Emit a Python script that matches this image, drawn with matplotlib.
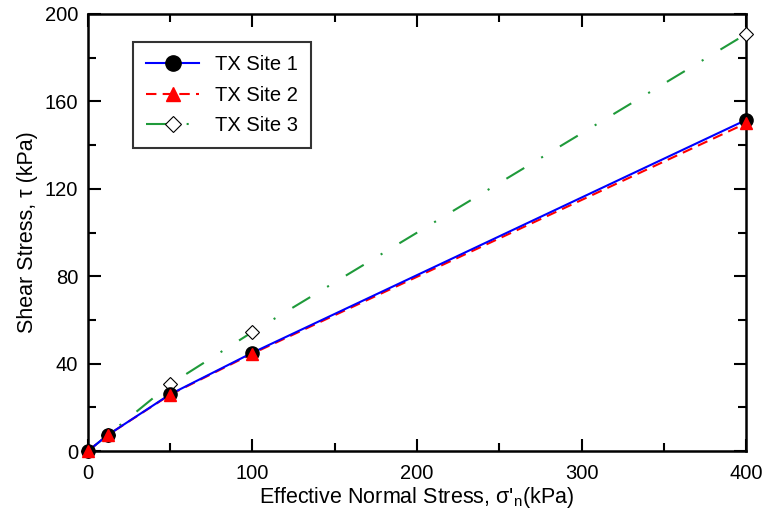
import matplotlib
matplotlib.use("Agg")
import matplotlib.pyplot as plt
from matplotlib.lines import Line2D
from matplotlib.ticker import MultipleLocator

plt.rcParams['font.family'] = ['Liberation Sans', 'DejaVu Sans']
plt.rcParams['mathtext.default'] = 'regular'

stress = [0, 12, 50, 100, 400]
site1 = [0, 7.3, 26.0, 45.0, 151.5]
site2 = [0, 7.3, 25.8, 44.6, 150.0]
site3 = [0, 7.3, 30.6, 54.5, 190.8]
labels = ['TX Site 1', 'TX Site 2', 'TX Site 3']

blue = '#0000ff'
red = '#ff0000'
green = '#1f9a3a'
lw = 1.5
ls2 = (0, (5, 3))
ls3 = (0, (10, 9.5, 1, 9.5))

fig = plt.figure(figsize=(7.67, 5.18), dpi=100)
ax = fig.add_axes([0.1147, 0.1293, 0.858, 0.8437])

ax.plot(stress, site3, color=green, lw=lw, linestyle=ls3, zorder=2)
ax.plot(stress, site2, color=red, lw=lw, linestyle=ls2, zorder=3)
ax.plot(stress, site1, color=blue, lw=lw, zorder=4)
ax.plot(stress, site3, linestyle='none', marker='D', ms=7.5, mfc='white', mec='black', mew=0.8, zorder=5, clip_on=False)
ax.plot(stress, site1, linestyle='none', marker='o', ms=9.5, mfc='black', mec='black', zorder=6, clip_on=False)
ax.plot(stress, site2, linestyle='none', marker='^', ms=8, mfc=red, mec=red, zorder=7, clip_on=False)

ax.set_xlim(0, 400)
ax.set_ylim(0, 200)
ax.xaxis.set_major_locator(MultipleLocator(100))
ax.xaxis.set_minor_locator(MultipleLocator(50))
ax.yaxis.set_major_locator(MultipleLocator(40))
ax.yaxis.set_minor_locator(MultipleLocator(20))
ax.tick_params(which='both', direction='in', top=True, right=True, width=1.5, labelsize=14.5)
ax.tick_params(axis='x', pad=9)
ax.tick_params(axis='y', pad=7)
ax.tick_params(which='major', length=9)
ax.tick_params(which='minor', length=6)
for s in ax.spines.values():
    s.set_linewidth(1.8)

ax.set_xlabel("Effective Normal Stress, σ'$_{n}$(kPa)", fontsize=15.5, labelpad=2)
ax.set_ylabel("Shear Stress, τ (kPa)", fontsize=15.5, labelpad=5)

handles = [
    Line2D([], [], color=blue, lw=lw, marker='o', ms=11, mfc='black', mec='black'),
    Line2D([], [], color=red, lw=lw, linestyle=ls2, marker='^', ms=10, mfc=red, mec=red),
    Line2D([], [], color=green, lw=lw, linestyle=ls3, marker='D', ms=8, mfc='white', mec='black', mew=0.8),
]
leg = ax.legend(handles, labels, loc='upper left', bbox_to_anchor=(0.069, 0.935), fontsize=14.5,
                frameon=True, fancybox=False, edgecolor='black', handlelength=2.6,
                borderpad=0.65, labelspacing=0.55, handletextpad=0.8, borderaxespad=0)
leg.get_frame().set_linewidth(1.5)

fig.savefig('out.png', dpi=100)
